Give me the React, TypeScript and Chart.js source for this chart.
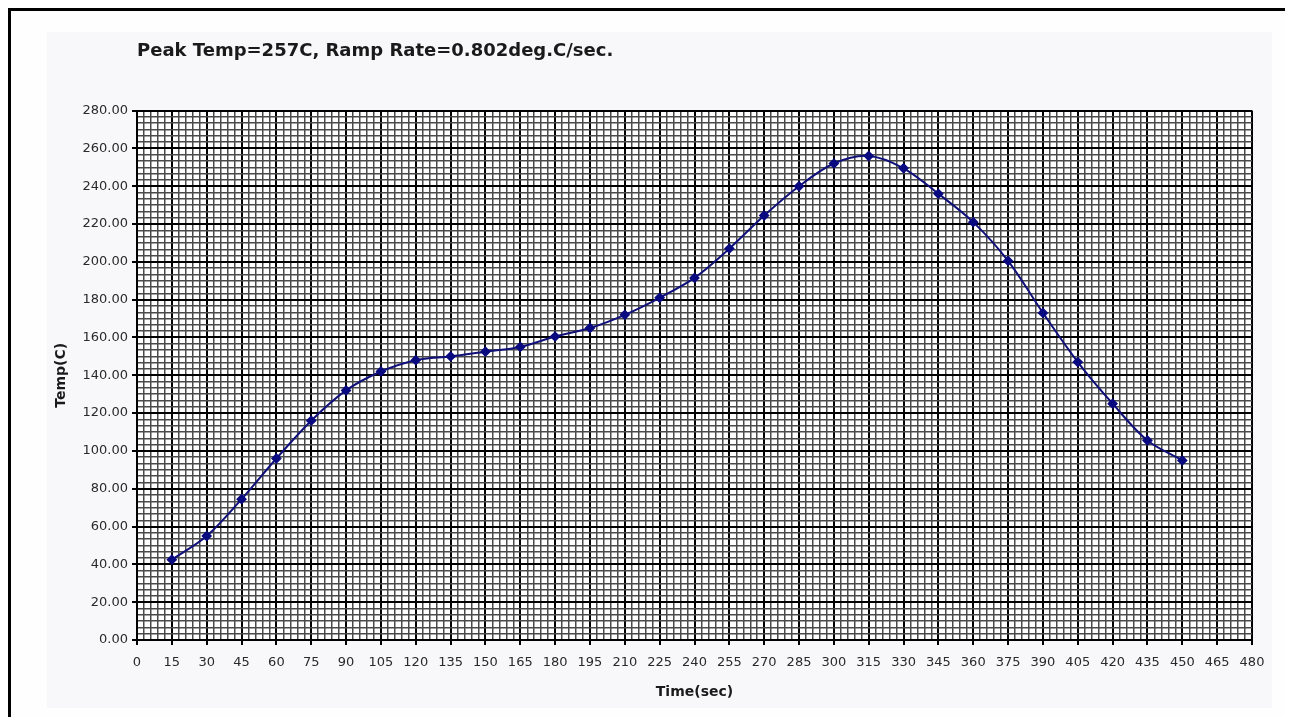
import React, { useEffect, useRef } from 'react';
import { Chart, registerables } from 'chart.js';

Chart.register(...registerables);

const TITLE = 'Peak Temp=257C, Ramp Rate=0.802deg.C/sec.';
const X_TITLE = 'Time(sec)';
const Y_TITLE = 'Temp(C)';

const times = [15, 30, 45, 60, 75, 90, 105, 120, 135, 150, 165, 180, 195, 210, 225, 240, 255, 270, 285, 300, 315, 330, 345, 360, 375, 390, 405, 420, 435, 450];
const temps = [42.5, 55, 74.5, 96, 116, 132, 142, 148, 150, 152.5, 155, 160.5, 165, 172, 181, 191.5, 207, 224.5, 240, 252, 256, 249.5, 236, 221, 200.5, 173, 147, 125, 105.5, 95];

const X_MIN = 0;
const X_MAX = 480;
const X_MAJOR = 15;
const X_MINOR = 3;
const Y_MIN = 0;
const Y_MAX = 280;
const Y_MAJOR = 20;
const Y_MINOR = 20 / 6;

const isMajor = (v: number, step: number) => Math.abs(v / step - Math.round(v / step)) < 1e-6;

const bgPlugin = {
  id: 'bgPlugin',
  beforeDraw(chart: any) {
    const { ctx, chartArea } = chart;
    ctx.save();
    ctx.fillStyle = '#fefefe';
    ctx.fillRect(0, 0, chart.width, chart.height);
    ctx.fillStyle = '#f8f7fa';
    ctx.fillRect(36, 21, 1225, 676);
    ctx.fillStyle = '#ffffff';
    ctx.fillRect(chartArea.left, chartArea.top, chartArea.right - chartArea.left, chartArea.bottom - chartArea.top);
    ctx.restore();
  },
};

export default function App() {
  const canvasRef = useRef<HTMLCanvasElement | null>(null);

  useEffect(() => {
    if (!canvasRef.current) return;
    const chart = new Chart(canvasRef.current, {
      type: 'line',
      data: {
        datasets: [
          {
            label: 'Temp',
            data: times.map((t, i) => ({ x: t, y: temps[i] })),
            borderColor: '#10107a',
            backgroundColor: '#10107a',
            borderWidth: 2,
            tension: 0.33,
            pointStyle: 'rectRot',
            pointRadius: 4,
            pointBackgroundColor: '#0a0a80',
            pointBorderColor: '#0a0a80',
            fill: false,
          },
        ],
      },
      options: {
        responsive: false,
        animation: false,
        devicePixelRatio: 1,
        layout: { padding: { left: 0, right: 33, top: 0, bottom: 0 } },
        plugins: {
          legend: { display: false },
          tooltip: { enabled: false },
          title: {
            display: true,
            text: TITLE,
            align: 'start',
            fullSize: false,
            color: '#1a1a1a',
            font: { family: 'DejaVu Sans', size: 18, weight: 'bold' },
            padding: { top: 30, bottom: 48 },
          },
        },
        scales: {
          x: {
            type: 'linear',
            min: X_MIN,
            max: X_MAX,
            afterFit: (s: any) => {
              s.height = 77;
            },
            ticks: {
              stepSize: X_MINOR,
              autoSkip: false,
              maxRotation: 0,
              minRotation: 0,
              padding: 10,
              color: '#2a2a2a',
              font: { family: 'DejaVu Sans', size: 13 },
              callback: (v: any) => (isMajor(Number(v), X_MAJOR) ? String(Math.round(Number(v))) : ''),
            },
            grid: {
              color: (c: any) => (isMajor(c.tick ? c.tick.value : 0, X_MAJOR) ? '#000000' : '#4a4a4a'),
              lineWidth: (c: any) => (isMajor(c.tick ? c.tick.value : 0, X_MAJOR) ? 2 : 1.5),
              tickLength: 5,
              tickColor: (c: any) => (isMajor(c.tick ? c.tick.value : 0, X_MAJOR) ? '#000000' : 'rgba(0,0,0,0)'),
            },
            border: { display: true, color: '#000000', width: 2 },
            title: {
              display: true,
              text: X_TITLE,
              color: '#1a1a1a',
              font: { family: 'DejaVu Sans', size: 14, weight: 'bold' },
              padding: { top: 0, bottom: 16 },
            },
          },
          y: {
            type: 'linear',
            min: Y_MIN,
            max: Y_MAX,
            afterFit: (s: any) => {
              s.width = 126;
            },
            ticks: {
              stepSize: Y_MINOR,
              autoSkip: false,
              padding: 4,
              color: '#2a2a2a',
              font: { family: 'DejaVu Sans', size: 13 },
              callback: (v: any) => (isMajor(Number(v), Y_MAJOR) ? (Math.round(Number(v) / Y_MAJOR) * Y_MAJOR).toFixed(2) : ''),
            },
            grid: {
              color: (c: any) => (isMajor(c.tick ? c.tick.value : 0, Y_MAJOR) ? '#000000' : '#4a4a4a'),
              lineWidth: (c: any) => (isMajor(c.tick ? c.tick.value : 0, Y_MAJOR) ? 2 : 1.5),
              tickLength: 5,
              tickColor: (c: any) => (isMajor(c.tick ? c.tick.value : 0, Y_MAJOR) ? '#000000' : 'rgba(0,0,0,0)'),
            },
            border: { display: true, color: '#000000', width: 2 },
            title: {
              display: true,
              text: Y_TITLE,
              color: '#1a1a1a',
              font: { family: 'DejaVu Sans', size: 14, weight: 'bold' },
              padding: { top: 42, bottom: 0 },
            },
          },
        },
      },
      plugins: [bgPlugin],
    } as any);
    return () => chart.destroy();
  }, []);

  return (
    <div
      style={{
        width: 1277,
        height: 709,
        borderLeft: '3px solid #000',
        borderTop: '3px solid #000',
        boxSizing: 'border-box',
        background: '#fefefe',
      }}
    >
      <canvas ref={canvasRef} width={1274} height={706} style={{ display: 'block' }} />
    </div>
  );
}
